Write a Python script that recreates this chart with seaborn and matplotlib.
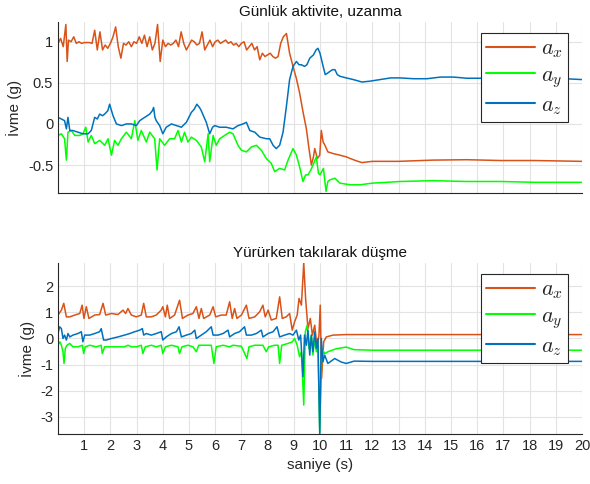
import matplotlib
matplotlib.use("Agg")
import matplotlib.pyplot as plt
import seaborn as sns
import pandas as pd

# ---------------- data (time [s], acceleration [g]) ----------------
top_title = "Günlük aktivite, uzanma"
bot_title = "Yürürken takılarak düşme"
ylabel = "İvme (g)"
xlabel = "saniye (s)"
series_names = ["$a_x$", "$a_y$", "$a_z$"]
x_ticks = list(range(1, 21))

top_ax = [(0,0.98),(0.1,1.04),(0.2,0.94),(0.3,1.21),(0.35,0.76),(0.4,1.02),(0.5,1.0),(0.6,1.06),(0.7,0.98),(0.8,1.0),(0.9,0.98),(1.0,0.99),(1.1,0.99),(1.2,0.99),(1.3,0.98),(1.4,1.14),(1.5,0.9),(1.6,1.12),(1.7,0.9),(1.8,0.96),(1.9,0.92),(2.0,0.98),(2.1,1.06),(2.2,1.18),(2.3,0.94),(2.4,0.8),(2.5,0.98),(2.6,0.96),(2.7,1.0),(2.8,0.94),(2.9,1.0),(3.0,0.98),(3.1,1.06),(3.2,0.98),(3.3,1.08),(3.4,0.94),(3.5,1.06),(3.6,0.9),(3.7,0.98),(3.8,1.21),(3.9,0.76),(4.0,1.02),(4.1,0.94),(4.2,0.98),(4.3,0.96),(4.4,0.98),(4.5,1.02),(4.6,0.94),(4.7,1.12),(4.8,0.98),(4.9,0.9),(5.0,0.96),(5.1,1.02),(5.2,1.0),(5.3,0.96),(5.4,0.98),(5.5,1.12),(5.6,0.9),(5.7,0.96),(5.8,1.02),(5.9,0.94),(6.0,1.0),(6.1,1.02),(6.2,0.98),(6.3,1.0),(6.4,1.02),(6.5,0.98),(6.6,1.0),(6.7,0.96),(6.8,0.98),(6.9,0.94),(7.0,0.98),(7.1,1.0),(7.2,0.9),(7.3,0.94),(7.4,0.98),(7.5,0.9),(7.6,0.94),(7.7,0.78),(7.8,0.86),(7.9,0.82),(8.0,0.84),(8.1,0.86),(8.2,0.82),(8.3,0.8),(8.4,0.82),(8.5,0.98),(8.6,1.06),(8.72,1.1),(8.84,0.86),(8.97,0.7),(9.1,0.55),(9.22,0.38),(9.35,0.15),(9.48,-0.06),(9.58,-0.3),(9.67,-0.5),(9.75,-0.4),(9.8,-0.3),(9.9,-0.42),(9.99,-0.38),(10.05,-0.08),(10.12,-0.22),(10.19,-0.26),(10.3,-0.34),(10.5,-0.36),(10.76,-0.38),(11.0,-0.4),(11.15,-0.42),(11.4,-0.45),(11.6,-0.47),(12.0,-0.455),(12.5,-0.455),(13.0,-0.455),(14.3,-0.44),(15.6,-0.435),(16.9,-0.445),(18.2,-0.445),(20,-0.455)]

top_ay = [(0,-0.14),(0.13,-0.12),(0.25,-0.18),(0.32,-0.44),(0.38,-0.1),(0.51,-0.08),(0.64,-0.14),(0.83,-0.14),(0.95,-0.12),(1.06,-0.04),(1.15,-0.22),(1.27,-0.14),(1.4,-0.24),(1.59,-0.2),(1.78,-0.26),(1.91,-0.18),(2.04,-0.38),(2.16,-0.2),(2.29,-0.26),(2.42,-0.18),(2.61,-0.1),(2.8,-0.18),(2.93,0.04),(3.05,-0.2),(3.18,-0.08),(3.37,-0.22),(3.5,-0.1),(3.69,-0.18),(3.78,-0.56),(3.88,-0.18),(4.07,-0.26),(4.26,-0.18),(4.45,-0.18),(4.58,-0.08),(4.71,-0.22),(4.83,-0.1),(4.96,-0.22),(5.09,-0.16),(5.28,-0.2),(5.47,-0.28),(5.6,-0.46),(5.73,-0.12),(5.79,-0.46),(5.92,-0.14),(6.04,-0.26),(6.17,-0.18),(6.36,-0.14),(6.55,-0.1),(6.68,-0.12),(6.87,-0.26),(7.0,-0.32),(7.19,-0.34),(7.38,-0.28),(7.57,-0.26),(7.76,-0.32),(7.95,-0.42),(8.14,-0.48),(8.27,-0.58),(8.46,-0.54),(8.65,-0.56),(8.78,-0.44),(8.97,-0.3),(9.1,-0.38),(9.22,-0.52),(9.35,-0.7),(9.45,-0.62),(9.54,-0.62),(9.65,-0.56),(9.73,-0.5),(9.86,-0.4),(9.94,-0.6),(10.0,-0.62),(10.13,-0.54),(10.23,-0.82),(10.3,-0.7),(10.38,-0.68),(10.57,-0.66),(10.76,-0.72),(11.15,-0.74),(11.53,-0.74),(12.0,-0.72),(12.55,-0.71),(13.06,-0.7),(14.3,-0.69),(15.6,-0.7),(16.9,-0.7),(18.2,-0.71),(20,-0.71)]

top_az = [(0,0.08),(0.13,0.06),(0.25,0.04),(0.32,-0.06),(0.38,0.08),(0.45,-0.08),(0.57,-0.08),(0.76,-0.1),(0.95,-0.12),(1.15,-0.12),(1.27,-0.08),(1.4,0.08),(1.5,0.06),(1.59,0.12),(1.7,0.1),(1.78,0.12),(1.9,0.16),(1.97,0.24),(2.1,0.1),(2.23,0.0),(2.42,-0.02),(2.61,0.0),(2.8,0.0),(2.99,-0.02),(3.12,0.04),(3.31,0.08),(3.5,0.12),(3.6,0.16),(3.65,0.2),(3.7,0.08),(3.75,0.04),(3.88,-0.02),(4.0,-0.12),(4.13,-0.04),(4.33,0.0),(4.52,-0.02),(4.71,-0.04),(4.9,0.02),(5.09,0.14),(5.2,0.18),(5.3,0.24),(5.4,0.2),(5.47,0.16),(5.55,0.1),(5.66,0.02),(5.79,-0.12),(5.9,-0.04),(5.98,-0.02),(6.17,-0.04),(6.42,-0.04),(6.68,-0.06),(6.87,-0.02),(7.06,0.0),(7.19,0.02),(7.32,-0.08),(7.51,-0.1),(7.7,-0.16),(7.95,-0.18),(8.08,-0.18),(8.21,-0.26),(8.33,-0.3),(8.46,-0.26),(8.59,-0.1),(8.72,0.22),(8.84,0.54),(8.97,0.7),(9.1,0.76),(9.2,0.72),(9.29,0.72),(9.41,0.7),(9.5,0.72),(9.61,0.8),(9.75,0.84),(9.85,0.9),(9.92,0.92),(10.0,0.86),(10.06,0.78),(10.12,0.7),(10.2,0.6),(10.3,0.62),(10.38,0.64),(10.48,0.66),(10.57,0.66),(10.66,0.6),(10.76,0.58),(11.0,0.56),(11.27,0.54),(11.6,0.51),(11.9,0.52),(12.3,0.54),(12.7,0.56),(13.06,0.56),(13.57,0.55),(14.08,0.55),(14.6,0.57),(15.1,0.57),(15.6,0.556),(16.1,0.556),(17.0,0.555),(18.0,0.56),(19.0,0.555),(20,0.54)]

bot_ax = [(0,0.9),(0.13,1.09),(0.22,1.35),(0.32,0.83),(0.45,0.83),(0.64,0.9),(0.83,0.96),(0.92,1.28),(0.99,0.77),(1.08,1.22),(1.18,0.77),(1.4,0.9),(1.59,0.92),(1.72,1.35),(1.82,0.9),(2.04,0.96),(2.29,0.92),(2.48,1.09),(2.58,0.96),(2.67,1.15),(2.8,0.9),(2.99,0.83),(3.18,0.9),(3.27,1.35),(3.37,0.83),(3.56,0.83),(3.75,0.9),(3.94,1.09),(4.0,1.22),(4.1,0.83),(4.17,1.28),(4.26,0.77),(4.45,0.9),(4.64,1.47),(4.75,0.77),(4.96,0.9),(5.15,0.96),(5.28,1.22),(5.38,0.77),(5.47,1.15),(5.56,0.77),(5.79,0.9),(5.92,1.22),(6.02,0.83),(6.23,0.9),(6.42,0.9),(6.55,1.41),(6.65,0.77),(6.74,1.15),(6.83,0.77),(7.0,0.9),(7.19,1.28),(7.29,0.77),(7.51,0.83),(7.7,1.03),(7.82,1.28),(7.91,0.83),(8.02,1.09),(8.14,0.71),(8.33,0.77),(8.46,1.6),(8.56,0.77),(8.71,0.83),(8.84,0.96),(8.94,0.32),(9.03,0.64),(9.13,0.9),(9.2,1.54),(9.29,1.28),(9.38,2.9),(9.45,1.54),(9.54,0.38),(9.63,0.77),(9.71,0.13),(9.8,0.51),(9.89,-0.38),(9.96,0.13),(10.01,1.28),(10.06,-1.54),(10.14,-0.13),(10.24,0.06),(10.5,0.13),(11.0,0.15),(12,0.15),(15,0.15),(20,0.15)]

bot_ay = [(0,-0.26),(0.07,-0.13),(0.13,-0.26),(0.19,-0.51),(0.23,-0.96),(0.28,-0.38),(0.34,-0.26),(0.45,-0.19),(0.57,-0.32),(0.76,-0.32),(0.93,-0.26),(0.98,-0.58),(1.04,-0.32),(1.21,-0.26),(1.46,-0.32),(1.65,-0.26),(1.69,-0.58),(1.78,-0.32),(2.04,-0.32),(2.29,-0.32),(2.54,-0.32),(2.67,-0.26),(2.8,-0.32),(2.99,-0.32),(3.18,-0.26),(3.24,-0.58),(3.33,-0.32),(3.56,-0.26),(3.75,-0.32),(3.94,-0.26),(4.0,-0.58),(4.1,-0.32),(4.33,-0.26),(4.58,-0.32),(4.64,-0.58),(4.73,-0.32),(4.96,-0.26),(5.15,-0.32),(5.28,-0.51),(5.37,-0.26),(5.6,-0.26),(5.85,-0.26),(5.95,-0.96),(6.04,-0.32),(6.3,-0.26),(6.55,-0.32),(6.68,-0.26),(7.0,-0.3),(7.21,-0.77),(7.29,-0.32),(7.51,-0.26),(7.82,-0.26),(7.95,-0.51),(8.04,-0.32),(8.27,-0.26),(8.4,-0.26),(8.46,-0.96),(8.54,-0.26),(8.78,-0.19),(8.94,-0.13),(9.03,0.0),(9.13,-0.26),(9.22,-0.7),(9.29,-0.51),(9.38,-2.56),(9.44,0.26),(9.51,0.51),(9.58,-0.38),(9.67,0.13),(9.73,-0.64),(9.8,0.0),(9.86,-0.51),(9.92,-0.13),(9.99,-3.6),(10.07,-0.38),(10.18,-0.58),(10.3,-0.51),(10.6,-0.4),(11.0,-0.33),(11.3,-0.43),(12,-0.45),(15,-0.45),(20,-0.45)]

bot_az = [(0,0.19),(0.06,0.45),(0.13,0.38),(0.19,0.0),(0.25,0.13),(0.32,-0.06),(0.38,0.19),(0.45,0.06),(0.57,0.13),(0.76,0.19),(0.89,0.26),(0.95,-0.13),(1.02,0.13),(1.21,0.13),(1.4,0.19),(1.59,0.26),(1.65,0.38),(1.74,-0.06),(1.84,-0.06),(2.04,0.0),(2.29,0.06),(2.54,0.13),(2.74,0.19),(2.93,0.26),(3.12,0.32),(3.22,0.38),(3.27,0.13),(3.37,0.19),(3.56,0.13),(3.75,0.19),(3.94,0.26),(4.0,-0.06),(4.13,0.06),(4.33,0.19),(4.52,0.26),(4.62,0.45),(4.71,0.06),(4.9,0.13),(5.09,0.19),(5.22,0.32),(5.28,0.0),(5.47,0.13),(5.66,0.26),(5.85,0.45),(5.92,0.13),(6.11,0.13),(6.3,0.19),(6.49,0.32),(6.55,0.06),(6.74,0.19),(6.93,0.26),(7.12,0.45),(7.19,0.13),(7.38,0.13),(7.57,0.19),(7.76,0.32),(7.82,0.06),(8.02,0.19),(8.21,0.26),(8.36,0.45),(8.46,0.06),(8.65,0.13),(8.84,0.19),(8.97,0.13),(9.1,0.32),(9.19,-0.06),(9.26,0.13),(9.35,-1.47),(9.41,0.13),(9.48,-0.26),(9.54,0.32),(9.61,-0.64),(9.67,0.13),(9.73,-0.51),(9.8,0.26),(9.86,-0.38),(9.92,0.0),(9.99,-3.67),(10.05,0.0),(10.11,-0.9),(10.18,-0.64),(10.3,-0.96),(10.56,-0.77),(10.8,-0.9),(11.0,-0.96),(11.3,-0.87),(12,-0.88),(15,-0.88),(20,-0.88)]

colors = ["#D95319", "#00FF00", "#0072BD"]

# ---------------- style ----------------
sns.set_style("white")
plt.rcParams["font.family"] = ["Liberation Sans", "DejaVu Sans"]
plt.rcParams["mathtext.fontset"] = "cm"

fig = plt.figure(figsize=(5.9, 4.84), dpi=100)
ax1 = fig.add_axes([58/590, 1-193/484, 524/590, 171/484])
ax2 = fig.add_axes([58/590, 1-434/484, 524/590, 171/484])


def to_df(pairs, name):
    return pd.DataFrame({"t": [p[0] for p in pairs],
                         "v": [p[1] for p in pairs],
                         "s": name})


def draw(ax, sets, title, ylim, yticks, show_x):
    df = pd.concat([to_df(p, n) for p, n in zip(sets, series_names)],
                   ignore_index=True)
    sns.lineplot(data=df, x="t", y="v", hue="s", palette=colors,
                 estimator=None, sort=False, lw=1.1, ax=ax)
    ax.set_xlim(0, 20)
    ax.set_ylim(*ylim)
    ax.set_xticks(x_ticks)
    ax.set_yticks(yticks)
    ax.set_yticklabels([("%g" % y) for y in yticks])
    if not show_x:
        ax.set_xticklabels([])
        ax.set_xlabel("")
    else:
        ax.set_xlabel(xlabel, fontsize=11, color="#262626", labelpad=4)
    ax.set_ylabel(ylabel, fontsize=11, color="#262626", labelpad=4)
    ax.set_title(title, fontsize=11, color="#111111", pad=4)
    ax.grid(True, color="#e3e3e3", lw=0.8)
    ax.set_axisbelow(True)
    for s in ["top", "right"]:
        ax.spines[s].set_visible(False)
    for s in ["left", "bottom"]:
        ax.spines[s].set_color("#262626")
        ax.spines[s].set_linewidth(0.8)
    ax.tick_params(direction="in", length=4, width=0.8, color="#262626",
                   labelsize=10.5, labelcolor="#262626")
    leg = ax.legend(loc="upper right", bbox_to_anchor=(1-14/524, 1-11/171),
                    borderaxespad=0, fontsize=16, handlelength=2.2,
                    handletextpad=0.25, labelspacing=0.22, frameon=True,
                    fancybox=False, borderpad=0.25)
    leg.get_frame().set_edgecolor("#262626")
    leg.get_frame().set_linewidth(0.8)
    leg.get_frame().set_alpha(1)
    for line in leg.get_lines():
        line.set_linewidth(1.5)


draw(ax1, [top_ax, top_ay, top_az], top_title, (-0.84, 1.24),
     [-0.5, 0, 0.5, 1], False)
draw(ax2, [bot_ax, bot_ay, bot_az], bot_title, (-3.67, 2.9),
     [-3, -2, -1, 0, 1, 2], True)

fig.savefig("out.png", dpi=100)
